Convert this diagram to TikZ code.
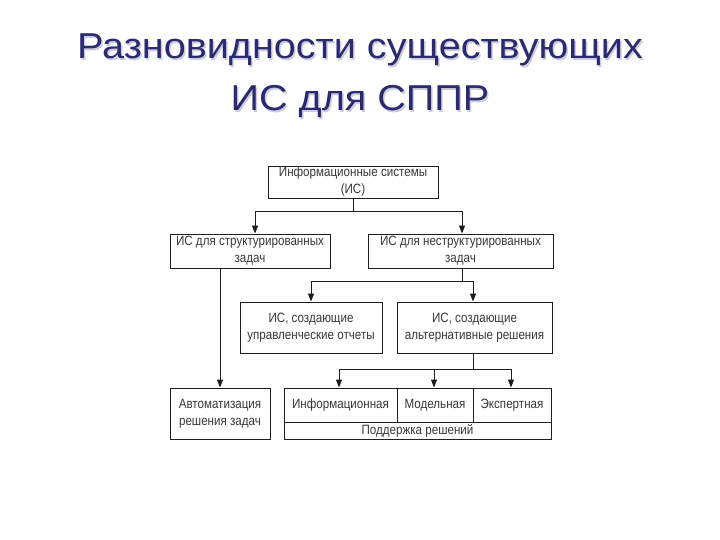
\documentclass[tikz,border=0pt]{standalone}
\usepackage{fontspec}
\setmainfont{Liberation Sans}
\newfontfamily\boxfont[FakeStretch=0.86]{Liberation Sans}
\newfontfamily\titlefont[FakeStretch=1.1]{Liberation Sans}
\usetikzlibrary{arrows.meta}
\definecolor{titleblue}{RGB}{42,42,115}
\definecolor{shadowgray}{RGB}{205,205,215}
\definecolor{linegray}{RGB}{30,30,30}
\begin{document}
\begin{tikzpicture}[x=1pt,y=-1pt,
  box/.style={draw=linegray,line width=0.9pt,rectangle,inner sep=0pt,align=center,
    font=\boxfont\fontsize{13.5}{17}\selectfont,text=black!78},
  cell/.style={draw=linegray,line width=0.9pt,rectangle,inner sep=0pt,align=center,
    font=\boxfont\fontsize{13.5}{14}\selectfont,text=black!78},
  conn/.style={draw=linegray,line width=0.9pt},
  arr/.style={conn,-{Triangle[length=8pt,width=6pt]}},
  ttl/.style={font=\titlefont\fontsize{36}{44}\selectfont,text=titleblue,anchor=base},
  ttlsh/.style={font=\titlefont\fontsize{36}{44}\selectfont,text=shadowgray,anchor=base}]
\useasboundingbox (0,0) rectangle (720,540);
\fill[white] (0,0) rectangle (720,540);
% title
\node[ttlsh] (t1s) at (361.5,60.5) {Разновидности существующих};
\node[ttlsh] (t2s) at (361.5,112.5) {ИС для СППР};
\node[ttl] (t1) at (360,59) {Разновидности существующих};
\node[ttl] (t2) at (360,111) {ИС для СППР};
% boxes
\node[box,minimum width=170,minimum height=32] (is) at (353,182) {Информационные системы\\(ИС)};
\node[box,minimum width=160,minimum height=34] (str) at (250,251) {ИС для структурированных\\задач};
\node[box,minimum width=185,minimum height=34] (nstr) at (460.5,251) {ИС для неструктурированных\\задач};
\node[box,minimum width=142,minimum height=51] (otch) at (311,327.5) {ИС, создающие\\управленческие отчеты};
\node[box,minimum width=155,minimum height=51] (alt) at (474.5,327.5) {ИС, создающие\\альтернативные решения};
\node[box,minimum width=100,minimum height=51] (auto) at (220,413.5) {Автоматизация\\решения задач};
% support cells
\node[cell,minimum width=113,minimum height=34] (inf) at (340.5,405) {Информационная};
\node[cell,minimum width=76,minimum height=34] (mod) at (435,405) {Модельная};
\node[cell,minimum width=78,minimum height=34] (exp) at (512,405) {Экспертная};
\node[cell,minimum width=267,minimum height=17] (sup) at (417.5,430.5) {Поддержка решений};
% connectors level 1
\coordinate (j1) at (353,211);
\coordinate (j1l) at (255,211);
\coordinate (j1r) at (462,211);
\draw[conn] (is.south) -- (j1);
\draw[conn] (j1l) -- (j1r);
\draw[arr] (j1l) -- (j1l |- str.north);
\draw[arr] (j1r) -- (j1r |- nstr.north);
% structured -> automation
\coordinate (s1) at (220,268);
\draw[arr] (s1) -- (auto.north);
% level 2
\coordinate (j2) at (462,281);
\coordinate (j2l) at (311,281);
\coordinate (j2r) at (473,281);
\draw[conn] (j2 |- nstr.south) -- (j2);
\draw[conn] (j2l) -- (j2r);
\draw[arr] (j2l) -- (otch.north);
\draw[arr] (j2r) -- (j2r |- alt.north);
% level 3
\coordinate (j3) at (473,369);
\coordinate (j3l) at (339,369);
\coordinate (j3m) at (434,369);
\coordinate (j3r) at (511,369);
\draw[conn] (j3 |- alt.south) -- (j3);
\draw[conn] (j3l) -- (j3r);
\draw[arr] (j3l) -- (j3l |- inf.north);
\draw[arr] (j3m) -- (j3m |- mod.north);
\draw[arr] (j3r) -- (j3r |- exp.north);
\end{tikzpicture}
\end{document}
